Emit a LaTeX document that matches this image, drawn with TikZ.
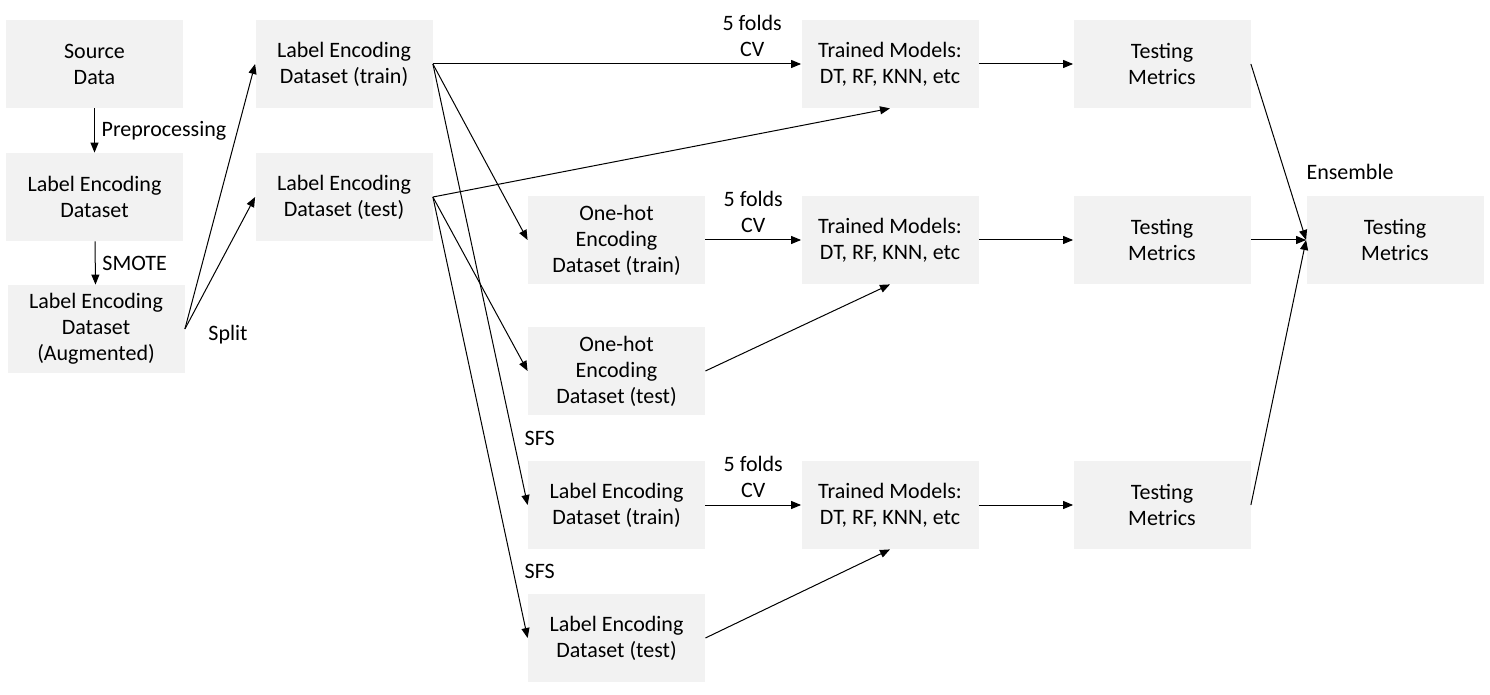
\documentclass[tikz,border=0pt]{standalone}
\usepackage{fontspec}
\setmainfont{Carlito}
\usetikzlibrary{arrows.meta}
\usetikzlibrary{positioning}
\definecolor{boxgray}{HTML}{F2F2F2}

\begin{document}
\begin{tikzpicture}[x=0.5pt,y=-0.5pt,font=\fontsize{11}{13}\selectfont,
  stage/.style={fill=boxgray,minimum width=88.5pt,minimum height=44pt,align=center,inner sep=0pt},
  flow/.style={-{Triangle[length=5pt,width=4pt]},line width=0.5pt}]
\useasboundingbox (0,0) rectangle (1490,695);

% preparation column
\node[stage] (src)  at (94.5,64)  {Source\\Data};
\node[stage] (lenc) at (94.5,197) {Label Encoding\\Dataset};
\node[stage] (aug)  at (96,329)   {Label Encoding\\Dataset\\(Augmented)};

% split
\node[stage] (trn) at (344,64)  {Label Encoding\\Dataset (train)};
\node[stage] (tst) at (344,197) {Label Encoding\\Dataset (test)};

% encodings
\node[stage] (ohtrn)  at (616.5,240) {One-hot\\Encoding\\Dataset (train)};
\node[stage] (ohtst)  at (616.5,371) {One-hot\\Encoding\\Dataset (test)};
\node[stage] (sfstrn) at (616.5,505) {Label Encoding\\Dataset (train)};
\node[stage] (sfstst) at (616.5,638) {Label Encoding\\Dataset (test)};

% models and metrics
\node[stage] (mdl1) at (890,64)  {Trained Models:\\DT, RF, KNN, etc};
\node[stage] (mdl2) at (890,240) {Trained Models:\\DT, RF, KNN, etc};
\node[stage] (mdl3) at (890,505) {Trained Models:\\DT, RF, KNN, etc};
\node[stage] (met1) at (1162,64)  {Testing\\Metrics};
\node[stage] (met2) at (1162,240) {Testing\\Metrics};
\node[stage] (met3) at (1162,505) {Testing\\Metrics};
\node[stage] (ens)  at (1395,240) {Testing\\Metrics};

\draw[flow] (src) -- node[right] {Preprocessing} (lenc);
\draw[flow] (lenc) -- node[right] {SMOTE} (aug);
\draw[flow] (aug.east) -- (trn.west);
\draw[flow] (aug.east) -- (tst.west);
\node (split) at (228,335) {Split};

\draw[flow] (trn.east) -- node[pos=.867,above,align=center] {5 folds\\CV} (mdl1.west);
\draw[flow] (trn.east) -- (ohtrn.west);
\draw[flow] (trn.east) -- (sfstrn.west);
\draw[flow] (tst.east) -- (mdl1.south);
\draw[flow] (tst.east) -- (ohtst.west);
\draw[flow] (tst.east) -- (sfstst.west);

\node[above=4pt of sfstrn.north west,anchor=south west,xshift=-5pt] (sfs1) {SFS};
\node[above=4pt of sfstst.north west,anchor=south west,xshift=-5pt] (sfs2) {SFS};

\draw[flow] (ohtrn) -- node[above,align=center] {5 folds\\CV} (mdl2);
\draw[flow] (ohtst.east) -- (mdl2.south);
\draw[flow] (sfstrn) -- node[above,align=center] {5 folds\\CV} (mdl3);
\draw[flow] (sfstst.east) -- (mdl3.south);

\draw[flow] (mdl1) -- (met1);
\draw[flow] (mdl2) -- (met2);
\draw[flow] (mdl3) -- (met3);

\draw[flow] (met1.east) -- (ens.west);
\draw[flow] (met2.east) -- (ens.west);
\draw[flow] (met3.east) -- (ens.west);
\node[above=4.5pt of ens.north west,anchor=south west,xshift=-3.3pt] (enslbl) {Ensemble};
\end{tikzpicture}
\end{document}
